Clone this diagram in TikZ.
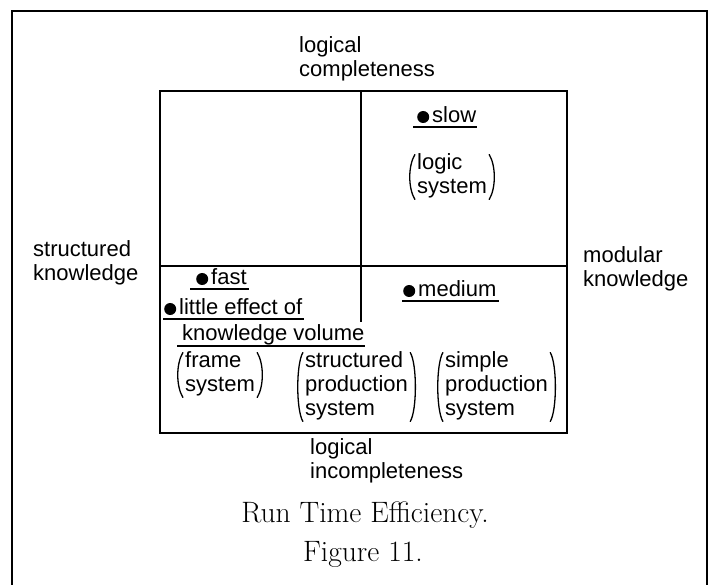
\documentclass[tikz,border=0pt]{standalone}
\usepackage{fontspec}
\newfontfamily\labelfont{Liberation Sans}
\begin{document}
\begin{tikzpicture}[x=1pt,y=-1pt,
  frameline/.style={line width=1.5pt},
  boxline/.style={line width=1.8pt},
  uline/.style={line width=1.6pt},
  parline/.style={line width=1.3pt},
  lbl/.style={inner sep=0pt,anchor=base west,font=\labelfont\fontsize{22}{24}\selectfont},
  grp/.style={inner ysep=0pt,inner xsep=9pt,anchor=west,font=\labelfont\fontsize{22}{24}\selectfont},
  captext/.style={inner sep=0pt,anchor=base,font=\fontsize{29.5}{32}\selectfont}]
\newcommand\blt{\tikz[baseline=0pt]\fill (6pt,6pt) circle [radius=6pt];\hspace{3pt}}
\newcommand\lines[1]{\begin{tabular}[t]{@{}l@{}}#1\end{tabular}}
\newcommand\grplines[1]{\begin{tabular}{@{}l@{}}#1\end{tabular}}
% round brackets drawn around a group node
\newcommand\parens[1]{%
  \draw[parline] ([shift={(7,1.5)}]#1.north west)
     .. controls ([shift={(0,13)}]#1.north west) and ([shift={(0,-13)}]#1.south west)
     .. ([shift={(7,-1.5)}]#1.south west);
  \draw[parline] ([shift={(-7,1.5)}]#1.north east)
     .. controls ([shift={(0,13)}]#1.north east) and ([shift={(0,-13)}]#1.south east)
     .. ([shift={(-7,-1.5)}]#1.south east);}
\useasboundingbox (0,0) rectangle (712,585);
\fill[white] (0,0) rectangle (712,585);

% page frame, open at the bottom
\coordinate (fbl) at (12,585);
\coordinate (ftl) at (12,11);
\coordinate (ftr) at (707,11);
\coordinate (fbr) at (707,585);
\draw[frameline] (fbl) -- (ftl) -- (ftr) -- (fbr);

% quadrant box
\coordinate (btl) at (160,91);
\coordinate (bbr) at (567,433);
\coordinate (hl) at (160,266);
\coordinate (hr) at (567,266);
\coordinate (vt) at (361,91);
\coordinate (vb) at (361,322);
\draw[boxline] (btl) rectangle (bbr);
\draw[boxline] (hl) -- (hr);
\draw[boxline] (vt) -- (vb);

% axis labels
\node[lbl] (top) at (299,53) {\lines{logical\\completeness}};
\node[lbl] (bottom) at (310,454) {\lines{logical\\incompleteness}};
\node[lbl] (left) at (33,257) {\lines{structured\\knowledge}};
\node[lbl] (right) at (583,263) {\lines{modular\\knowledge}};

% properties
\node[lbl] (slow) at (417,123) {\blt slow};
\node[lbl] (fast) at (196,285) {\blt fast};
\node[lbl] (little) at (164,315) {\blt little effect of};
\node[lbl] (volume) at (182,340) {knowledge volume};
\node[lbl] (medium) at (403,297) {\blt medium};
\draw[uline] ([shift={(-4,4)}]slow.base west) -- ([shift={(1,4)}]slow.base east);
\draw[uline] ([shift={(-6,4)}]fast.base west) -- ([shift={(2,4)}]fast.base east);
\draw[uline] ([shift={(-1,4)}]little.base west) -- ([shift={(1,4)}]little.base east);
\draw[uline] ([shift={(-5,6)}]volume.base west) -- ([shift={(0,6)}]volume.base east);
\draw[uline] ([shift={(-1,4)}]medium.base west) -- ([shift={(2,4)}]medium.base east);

% systems
\node[grp] (logic) at (408,177) {\grplines{logic\\system}};
\node[grp] (frame) at (176,375) {\grplines{frame\\system}};
\node[grp] (structured) at (296,387) {\grplines{structured\\production\\system}};
\node[grp] (simple) at (436,387) {\grplines{simple\\production\\system}};
\parens{logic}
\parens{frame}
\parens{structured}
\parens{simple}

% caption
\node[captext] (title) at (365,522) {Run Time Efficiency.};
\node[captext] (fig) at (363,561) {Figure 11.};
\end{tikzpicture}
\end{document}
